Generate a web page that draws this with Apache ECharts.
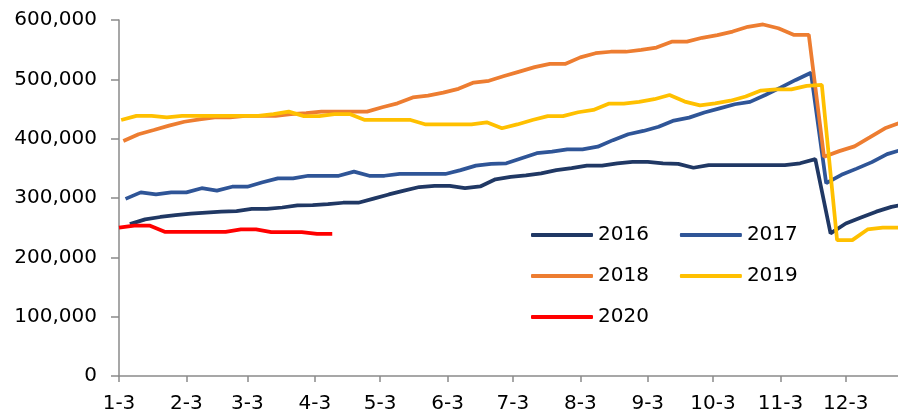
<!DOCTYPE html>
<html>
<head>
    <meta charset="utf-8">
    <title>chart</title>
    <script src="https://cdn.jsdelivr.net/npm/echarts@6/dist/echarts.min.js"></script>
    <style type="text/css">
        html, body { margin: 0; padding: 0; background: #fff; }
        #main { width: 898px; height: 414px; }
    </style>
</head>
<body>
<div id="main"></div>
<script>
    // tick labels on the x axis (3rd day of each month)
    var tickLabels = ['1-3', '2-3', '3-3', '4-3', '5-3', '6-3', '7-3', '8-3', '9-3', '10-3', '11-3', '12-3'];
    var yTicks = [0, 100000, 200000, 300000, 400000, 500000, 600000];

    // first weekly date of each year (weekly data, Fridays)
    var firstDates = {
        '2016': '2016-01-08',
        '2017': '2017-01-06',
        '2018': '2018-01-05',
        '2019': '2019-01-04',
        '2020': '2020-01-03'
    };

    var v2016 = [256000, 264000, 268000, 271000, 273500, 275500, 277000, 278000, 281500, 281500,
        284000, 287500, 288000, 289500, 292000, 292000, 299000, 306000, 312500, 318500,
        320500, 320500, 316500, 319500, 331500, 335500, 338000, 341500, 347000, 350500,
        354500, 354500, 358500, 361000, 361000, 358500, 357500, 351000, 355500, 355500,
        355500, 355500, 355500, 355500, 358500, 365500, 240500, 257000, 267000, 277000,
        285000, 290000];
    var v2017 = [298500, 309500, 306000, 309500, 309500, 316500, 312500, 319000, 319000, 326500,
        333000, 333000, 337500, 337500, 337500, 344500, 337500, 337500, 340500, 340500,
        340500, 340500, 347000, 354500, 357500, 358500, 367000, 375500, 378000, 382000,
        382000, 386500, 397500, 407500, 413000, 420000, 430500, 435500, 444000, 451000,
        458000, 462000, 473500, 486000, 499000, 511000, 325000, 339000, 349500, 360500,
        374000, 381500];
    var v2018 = [396000, 407500, 414500, 422000, 428500, 432500, 436000, 436000, 438500, 438500,
        438500, 441500, 443000, 445500, 445500, 445500, 445500, 453000, 459500, 469500,
        472500, 477500, 484000, 494500, 497500, 505500, 513000, 520500, 526000, 526000,
        537000, 544000, 546500, 546500, 549500, 553500, 563500, 563500, 570000, 574500,
        580500, 588500, 592500, 586000, 575000, 575000, 369500, 379000, 387000, 402000,
        417500, 427000];
    var v2019 = [431500, 438500, 438500, 436000, 438500, 438500, 438500, 438500, 438500, 438500,
        441500, 445500, 438000, 438000, 441500, 441500, 431500, 431500, 431500, 431500,
        424000, 424000, 424000, 424000, 427500, 417500, 424000, 431500, 438000, 438000,
        444500, 448500, 459000, 459000, 462000, 466500, 473500, 462500, 456000, 459500,
        464000, 471000, 481000, 483000, 483000, 489000, 490500, 229000, 229000, 247000,
        250000, 250000];
    var v2020 = [250000, 253500, 253500, 243000, 243000, 243000, 243000, 243000, 247000, 247000,
        242500, 242500, 242500, 239500, 239500];

    var seriesColors = {
        '2016': '#203864',
        '2017': '#2f5597',
        '2018': '#ed7d31',
        '2019': '#ffc000',
        '2020': '#ff0000'
    };

    var DAY = 86400000;
    // days from Jan 3 of a year to each month's 3rd
    var tickDays = tickLabels.map(function (l, i) {
        return (Date.UTC(2019, i, 3) - Date.UTC(2019, 0, 3)) / DAY;
    });

    function weekly(year, values) {
        var d0 = (Date.parse(firstDates[year]) - Date.UTC(+year, 0, 3)) / DAY;
        return values.map(function (v, i) { return [d0 + 7 * i, v]; });
    }

    function fmt(v) {
        return v === 0 ? '0' : String(v).replace(/\B(?=(\d{3})+(?!\d))/g, ',');
    }

    var font = 'DejaVu Sans';
    var axisColor = '#8a8a8a';
    var years = ['2016', '2017', '2018', '2019', '2020'];
    var valuesByYear = { '2016': v2016, '2017': v2017, '2018': v2018, '2019': v2019, '2020': v2020 };

    var myChart = echarts.init(document.getElementById('main'));
    // legend: plain thick line, 2 per row
    var legendBase = {
        icon: 'roundRect',
        itemWidth: 62,
        itemHeight: 4,
        itemGap: 31,
        textStyle: { fontFamily: font, fontSize: 20, color: '#000' }
    };
    var option = {
        animation: false,
        grid: { left: 119, right: 0, top: 20, bottom: 38 },
        legend: [
            Object.assign({ data: ['2016', '2017'], left: 526, top: 220 }, legendBase),
            Object.assign({ data: ['2018', '2019'], left: 526, top: 261 }, legendBase),
            Object.assign({ data: ['2020'], left: 526, top: 302 }, legendBase)
        ],
        xAxis: {
            type: 'value',
            min: 0,
            max: 358,
            axisLine: { lineStyle: { color: axisColor, width: 1.5 } },
            axisTick: { show: true, length: 6, customValues: tickDays, lineStyle: { color: axisColor, width: 1.5 } },
            axisLabel: {
                customValues: tickDays,
                margin: 18,
                fontFamily: font, fontSize: 20, color: '#000',
                formatter: function (v) { return tickLabels[tickDays.indexOf(v)]; }
            },
            splitLine: { show: false }
        },
        yAxis: {
            type: 'value',
            min: yTicks[0],
            max: yTicks[yTicks.length - 1],
            interval: yTicks[1] - yTicks[0],
            axisLine: { show: true, lineStyle: { color: axisColor, width: 1.5 } },
            axisTick: { show: true, length: 8, lineStyle: { color: axisColor, width: 1.5 } },
            axisLabel: { margin: 22, fontFamily: font, fontSize: 20, color: '#000', formatter: fmt },
            splitLine: { show: false }
        },
        series: years.map(function (y) {
            return {
                name: y,
                type: 'line',
                symbol: 'none',
                color: seriesColors[y],
                lineStyle: { width: 3.75, color: seriesColors[y] },
                data: weekly(y, valuesByYear[y])
            };
        })
    };
    myChart.setOption(option);
</script>
</body>
</html>
